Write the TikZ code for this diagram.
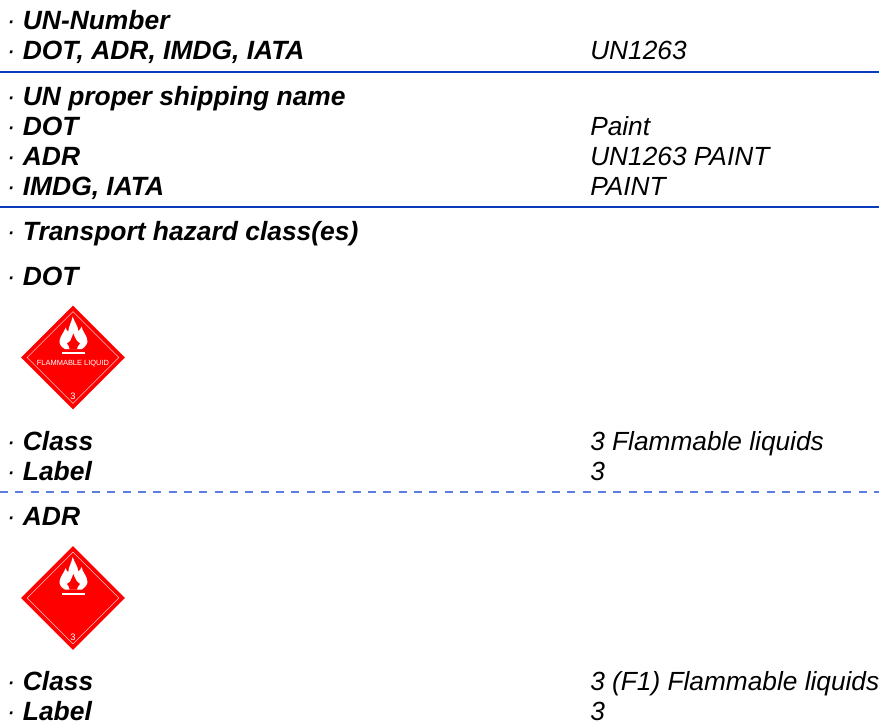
\documentclass[tikz,border=0pt]{standalone}
\usepackage{fontspec}
\setmainfont{Liberation Sans}
\usetikzlibrary{positioning,shapes.geometric}
\definecolor{rulecol}{HTML}{0B3BBD}
\definecolor{dashcol}{HTML}{5B7FE0}
\newcommand{\bul}{{\mdseries ·} }
\tikzset{
  lbl/.style={anchor=base west,inner sep=0pt,font=\fontsize{19.8pt}{22pt}\selectfont\bfseries\itshape},
  val/.style={anchor=base west,inner sep=0pt,font=\fontsize{19.7pt}{22pt}\selectfont\itshape},
  hazard/.style={shape=diamond,fill=red,inner sep=0pt,minimum width=78pt,minimum height=78pt},
  hazrim/.style={shape=diamond,draw=white,line width=0.25pt,inner sep=0pt,minimum width=69pt,minimum height=69pt},
  haztext/.style={anchor=base,inner sep=0pt,text=white},
  flame/.pic={
    \fill[white] (-8,-8.5) .. controls (-11,-10) and (-14,-13) .. (-13.5,-17)
      .. controls (-12.5,-22) and (-9,-25) .. (-7.3,-30)
      .. controls (-7,-28) and (-6,-27) .. (-4.7,-25.8)
      .. controls (-4.5,-31) and (-1.5,-35) .. (-0.3,-41)
      .. controls (1,-36) and (5,-32) .. (5.3,-26.5)
      .. controls (6.5,-27.5) and (8,-29) .. (8.7,-31)
      .. controls (9,-26) and (14.5,-22) .. (14.5,-16)
      .. controls (14.5,-13) and (11,-10) .. (9,-8.5) -- cycle;
    \fill[red] (-3.5,-8.5) .. controls (-3.5,-10) and (-4,-12) .. (-6,-14)
      .. controls (-4.5,-14.5) and (-3.5,-15.5) .. (-2.8,-16.5)
      .. controls (-2,-18.5) and (-0.5,-21) .. (0.3,-24)
      .. controls (1,-21) and (3,-18.5) .. (4,-16.5)
      .. controls (4.8,-15.5) and (5.8,-14.5) .. (7,-14)
      .. controls (5,-12) and (4,-10) .. (4,-8.5) -- cycle;
    \fill[white] (-10.7,-5.5) rectangle (11.7,-3.2);
  }
}

\begin{document}
\begin{tikzpicture}[x=0.75pt,y=-0.75pt]
\useasboundingbox (0,0) rectangle (879,722);

\node[lbl] (un) at (6.5,29.5) {\bul UN-Number};
\node[lbl] (unmodes) at (6.5,59.5) {\bul DOT, ADR, IMDG, IATA};
\node[val] (unval) at (590,59.5) {UN1263};
\coordinate (r1a) at (0,72);
\coordinate (r1b) at (879,72);
\draw[rulecol,line width=1.1pt] (r1a) -- (r1b);

\node[lbl] (name) at (6.5,105) {\bul UN proper shipping name};
\node[lbl] (namedot) at (6.5,135) {\bul DOT};
\node[val] (namedotval) at (590,135) {Paint};
\node[lbl] (nameadr) at (6.5,165) {\bul ADR};
\node[val] (nameadrval) at (590,165) {UN1263 PAINT};
\node[lbl] (nameimdg) at (6.5,195) {\bul IMDG, IATA};
\node[val] (nameimdgval) at (590,195) {PAINT};
\coordinate (r2a) at (0,207);
\coordinate (r2b) at (879,207);
\draw[rulecol,line width=1.1pt] (r2a) -- (r2b);

\node[lbl] (hazclass) at (6.5,240) {\bul Transport hazard class(es)};
\node[lbl] (dot) at (6.5,285) {\bul DOT};

\node[hazard] (dia1) at (73,357.5) {};
\node[hazrim] (rim1) at (dia1) {};
\pic at (dia1.center) {flame};
\node[haztext,font=\fontsize{5.6pt}{7pt}\selectfont] (flam) at (73,365) {FLAMMABLE LIQUID};
\node[haztext,font=\fontsize{7pt}{8pt}\selectfont] (three1) at (73,399) {3};

\node[lbl] (dotclass) at (6.5,450) {\bul Class};
\node[val] (dotclassval) at (590,450) {3 Flammable liquids};
\node[lbl] (dotlabel) at (6.5,480) {\bul Label};
\node[val] (dotlabelval) at (590,480) {3};
\coordinate (r3a) at (0,492);
\coordinate (r3b) at (879,492);
\draw[dashcol,line width=1pt,dash pattern=on 6pt off 5.5pt] (r3a) -- (r3b);

\node[lbl] (adr) at (6.5,525) {\bul ADR};

\node[hazard] (dia2) at (73,598) {};
\node[hazrim] (rim2) at (dia2) {};
\pic at (dia2.center) {flame};
\node[haztext,font=\fontsize{7pt}{8pt}\selectfont] (three2) at (73,640) {3};

\node[lbl] (adrclass) at (6.5,690) {\bul Class};
\node[val] (adrclassval) at (590,690) {3 (F1) Flammable liquids};
\node[lbl] (adrlabel) at (6.5,720) {\bul Label};
\node[val] (adrlabelval) at (590,720) {3};
\end{tikzpicture}
\end{document}
